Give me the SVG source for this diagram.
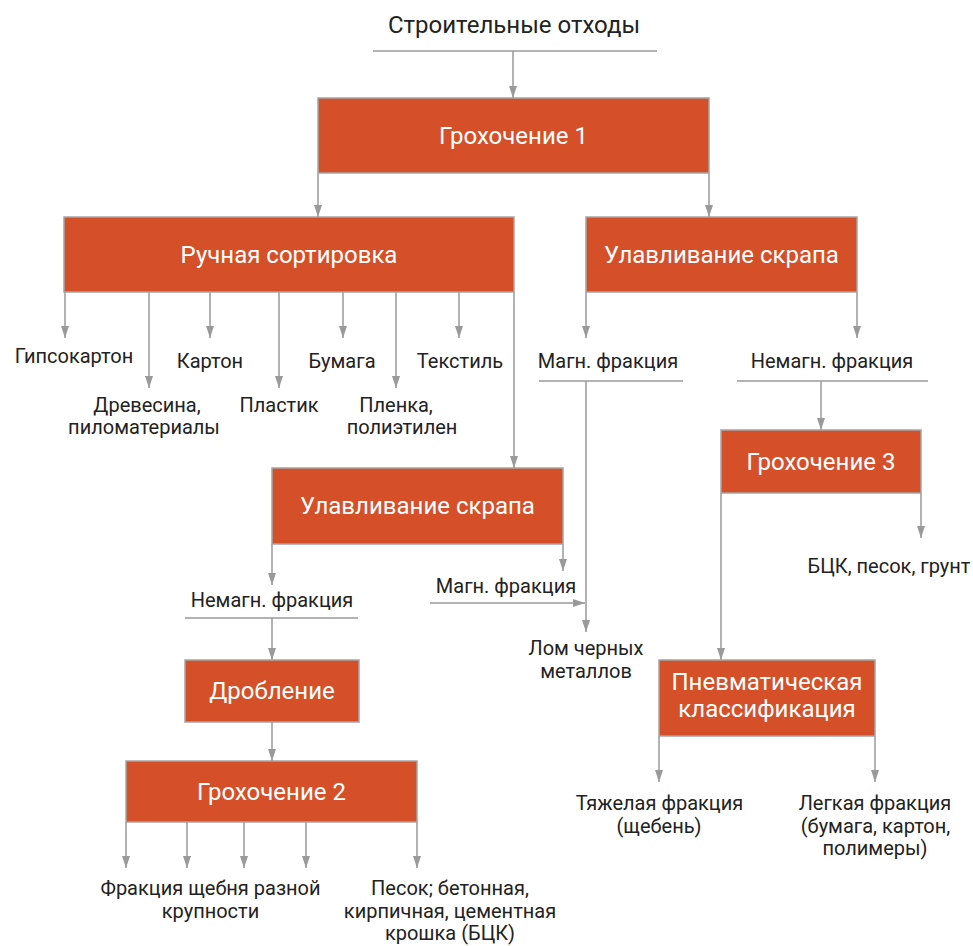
<svg xmlns="http://www.w3.org/2000/svg" width="973" height="946" viewBox="0 0 973 946">
<style>
.box{fill:#D55028;stroke:#A5A5A5;stroke-width:1.5}
.bt{font-family:Roboto,"Liberation Sans",sans-serif;font-size:24px;fill:#ffffff;text-anchor:middle}
.lb{font-family:Roboto,"Liberation Sans",sans-serif;font-size:20px;fill:#222222;text-anchor:middle}
.tt{font-family:Roboto,"Liberation Sans",sans-serif;font-size:24px;fill:#222222;text-anchor:middle}
.ln{stroke:#9A9A9A;stroke-width:1.5;fill:none}
.ar{stroke:#9A9A9A;stroke-width:1.5;fill:none;marker-end:url(#ah)}
</style>
<defs>
<marker id="ah" markerUnits="userSpaceOnUse" markerWidth="12" markerHeight="8" refX="12" refY="4" orient="auto">
<path d="M0,0 L12,4 L0,8 z" fill="#9A9A9A"/>
</marker>
</defs>
<rect width="973" height="946" fill="#ffffff"/>

<g id="connectors">
<line class="ln" x1="373" y1="51" x2="657" y2="51"/>
<line class="ar" x1="513" y1="51" x2="513" y2="98"/>
<line class="ar" x1="318" y1="173" x2="318" y2="217"/>
<line class="ar" x1="709" y1="173" x2="709" y2="217"/>
<line class="ar" x1="65" y1="292" x2="65" y2="338"/>
<line class="ar" x1="149" y1="292" x2="149" y2="388"/>
<line class="ar" x1="210" y1="292" x2="210" y2="338"/>
<line class="ar" x1="279" y1="292" x2="279" y2="388"/>
<line class="ar" x1="343" y1="292" x2="343" y2="338"/>
<line class="ar" x1="396" y1="292" x2="396" y2="388"/>
<line class="ar" x1="459" y1="292" x2="459" y2="338"/>
<line class="ar" x1="514" y1="292" x2="514" y2="468"/>
<line class="ar" x1="586" y1="292" x2="586" y2="338"/>
<line class="ar" x1="857" y1="292" x2="857" y2="338"/>
<line class="ln" x1="539" y1="381" x2="683" y2="381"/>
<line class="ln" x1="737" y1="381" x2="928" y2="381"/>
<line class="ar" x1="586" y1="381" x2="586" y2="632"/>
<line class="ar" x1="821" y1="381" x2="821" y2="430"/>
<line class="ar" x1="921" y1="493" x2="921" y2="538"/>
<line class="ar" x1="721" y1="493" x2="721" y2="660"/>
<line class="ar" x1="272" y1="544" x2="272" y2="585"/>
<line class="ar" x1="563" y1="544" x2="563" y2="571"/>
<line class="ar" x1="430" y1="603" x2="585" y2="603"/>
<line class="ln" x1="185" y1="618" x2="358" y2="618"/>
<line class="ar" x1="272" y1="618" x2="272" y2="660"/>
<line class="ar" x1="272" y1="722" x2="272" y2="761"/>
<line class="ar" x1="126" y1="822" x2="126" y2="868"/>
<line class="ar" x1="187" y1="822" x2="187" y2="868"/>
<line class="ar" x1="244" y1="822" x2="244" y2="868"/>
<line class="ar" x1="306" y1="822" x2="306" y2="868"/>
<line class="ar" x1="417" y1="822" x2="417" y2="868"/>
<line class="ar" x1="659" y1="736" x2="659" y2="782"/>
<line class="ar" x1="875" y1="736" x2="875" y2="782"/>
</g>

<g id="title"><text class="tt" x="514" y="33">Строительные отходы</text></g>

<g id="groh1"><rect class="box" x="318" y="98" width="391" height="75"/><text class="bt" x="513.5" y="144">Грохочение 1</text></g>
<g id="ruchnaya"><rect class="box" x="64" y="217" width="450" height="75"/><text class="bt" x="289" y="263">Ручная сортировка</text></g>
<g id="ulav1"><rect class="box" x="586" y="217" width="271" height="75"/><text class="bt" x="721.5" y="263">Улавливание скрапа</text></g>

<g id="l-gips"><text class="lb" x="74" y="363">Гипсокартон</text></g>
<g id="l-drev"><text class="lb" x="147" y="412">Древесина,</text><text class="lb" x="144" y="434">пиломатериалы</text></g>
<g id="l-karton"><text class="lb" x="210" y="368">Картон</text></g>
<g id="l-plastik"><text class="lb" x="279" y="412">Пластик</text></g>
<g id="l-bumaga"><text class="lb" x="342" y="368">Бумага</text></g>
<g id="l-plenka"><text class="lb" x="396" y="412">Пленка,</text><text class="lb" x="402" y="434">полиэтилен</text></g>
<g id="l-tekstil"><text class="lb" x="460" y="368">Текстиль</text></g>

<g id="l-magn1"><text class="lb" x="608" y="368">Магн. фракция</text></g>
<g id="l-nemagn1"><text class="lb" x="832" y="368">Немагн. фракция</text></g>

<g id="groh3"><rect class="box" x="721" y="430" width="200" height="63"/><text class="bt" x="821" y="470">Грохочение 3</text></g>
<g id="l-bck"><text class="lb" x="889" y="573">БЦК, песок, грунт</text></g>

<g id="ulav2"><rect class="box" x="272" y="468" width="291" height="76"/><text class="bt" x="417.5" y="514">Улавливание скрапа</text></g>
<g id="l-nemagn2"><text class="lb" x="272" y="607">Немагн. фракция</text></g>
<g id="l-magn2"><text class="lb" x="506" y="593">Магн. фракция</text></g>
<g id="l-lom"><text class="lb" x="586" y="655">Лом черных</text><text class="lb" x="586" y="678">металлов</text></g>

<g id="drob"><rect class="box" x="185" y="660" width="174" height="62"/><text class="bt" x="272" y="699">Дробление</text></g>
<g id="groh2"><rect class="box" x="126" y="761" width="291" height="61"/><text class="bt" x="271.5" y="800">Грохочение 2</text></g>
<g id="l-fr"><text class="lb" x="210.5" y="895">Фракция щебня разной</text><text class="lb" x="210.5" y="918">крупности</text></g>
<g id="l-pesok"><text class="lb" x="450" y="895">Песок; бетонная,</text><text class="lb" x="450" y="918">кирпичная, цементная</text><text class="lb" x="450" y="940">крошка (БЦК)</text></g>

<g id="pnevmo"><rect class="box" x="659" y="660" width="216" height="76"/><text class="bt" x="767" y="690">Пневматическая</text><text class="bt" x="767" y="717">классификация</text></g>
<g id="l-tyazh"><text class="lb" x="659.5" y="810">Тяжелая фракция</text><text class="lb" x="659" y="833">(щебень)</text></g>
<g id="l-legk"><text class="lb" x="875" y="810">Легкая фракция</text><text class="lb" x="875.5" y="833">(бумага, картон,</text><text class="lb" x="875" y="855">полимеры)</text></g>
</svg>
